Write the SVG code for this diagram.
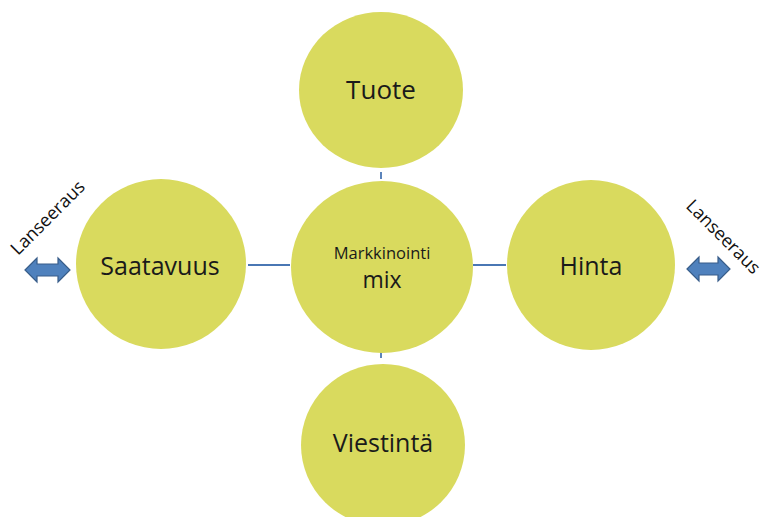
<svg xmlns="http://www.w3.org/2000/svg" width="766" height="517" viewBox="0 0 766 517">
<style>
.n{fill:#d9da5e;}
.t{font-family:"Open Sans","Liberation Sans",sans-serif;fill:#1a1a1a;text-anchor:middle;}
.c{stroke:#4a77b4;stroke-width:1.8;fill:none;}
.a{fill:#4f81bd;stroke:#385d8a;stroke-width:1.2;}
.l{font-family:"Open Sans","Liberation Sans",sans-serif;font-size:18px;fill:#111;text-anchor:middle;}
</style>
<rect width="766" height="517" fill="#fff"/>
<g id="connectors">
<line class="c" x1="248" y1="265" x2="290" y2="265"/>
<line class="c" x1="473" y1="265" x2="506" y2="265"/>
<line class="c" x1="381" y1="172" x2="381" y2="179"/>
<line class="c" x1="381" y1="352" x2="381" y2="358"/>
</g>
<g id="tuote"><ellipse class="n" cx="381" cy="90" rx="82" ry="78"/><text class="t" x="381" y="99" font-size="26">Tuote</text></g>
<g id="mix"><ellipse class="n" cx="382" cy="267" rx="91" ry="86"/><text class="t" x="382" y="259" font-size="16.5">Markkinointi</text><text class="t" x="382" y="288" font-size="23">mix</text></g>
<g id="saatavuus"><ellipse class="n" cx="161" cy="264" rx="85" ry="85"/><text class="t" x="160" y="275" font-size="25">Saatavuus</text></g>
<g id="hinta"><ellipse class="n" cx="591" cy="265" rx="84" ry="85"/><text class="t" x="591" y="275" font-size="25">Hinta</text></g>
<g id="viestinta"><ellipse class="n" cx="383" cy="445" rx="82" ry="81"/><text class="t" x="383" y="452" font-size="25">Viestintä</text></g>
<g id="arrow-left"><path class="a" d="M25,270 L37,258 L37,264 L58,264 L58,258 L70,270 L58,282 L58,276 L37,276 L37,282 Z"/></g>
<g id="arrow-right"><path class="a" d="M687,269 L699,257 L699,263 L718,263 L718,257 L730,269 L718,281 L718,275 L699,275 L699,281 Z"/></g>
<g id="label-left"><text class="l" transform="translate(52,222) rotate(-45)">Lanseeraus</text></g>
<g id="label-right"><text class="l" transform="translate(719,241) rotate(45)">Lanseeraus</text></g>
</svg>
